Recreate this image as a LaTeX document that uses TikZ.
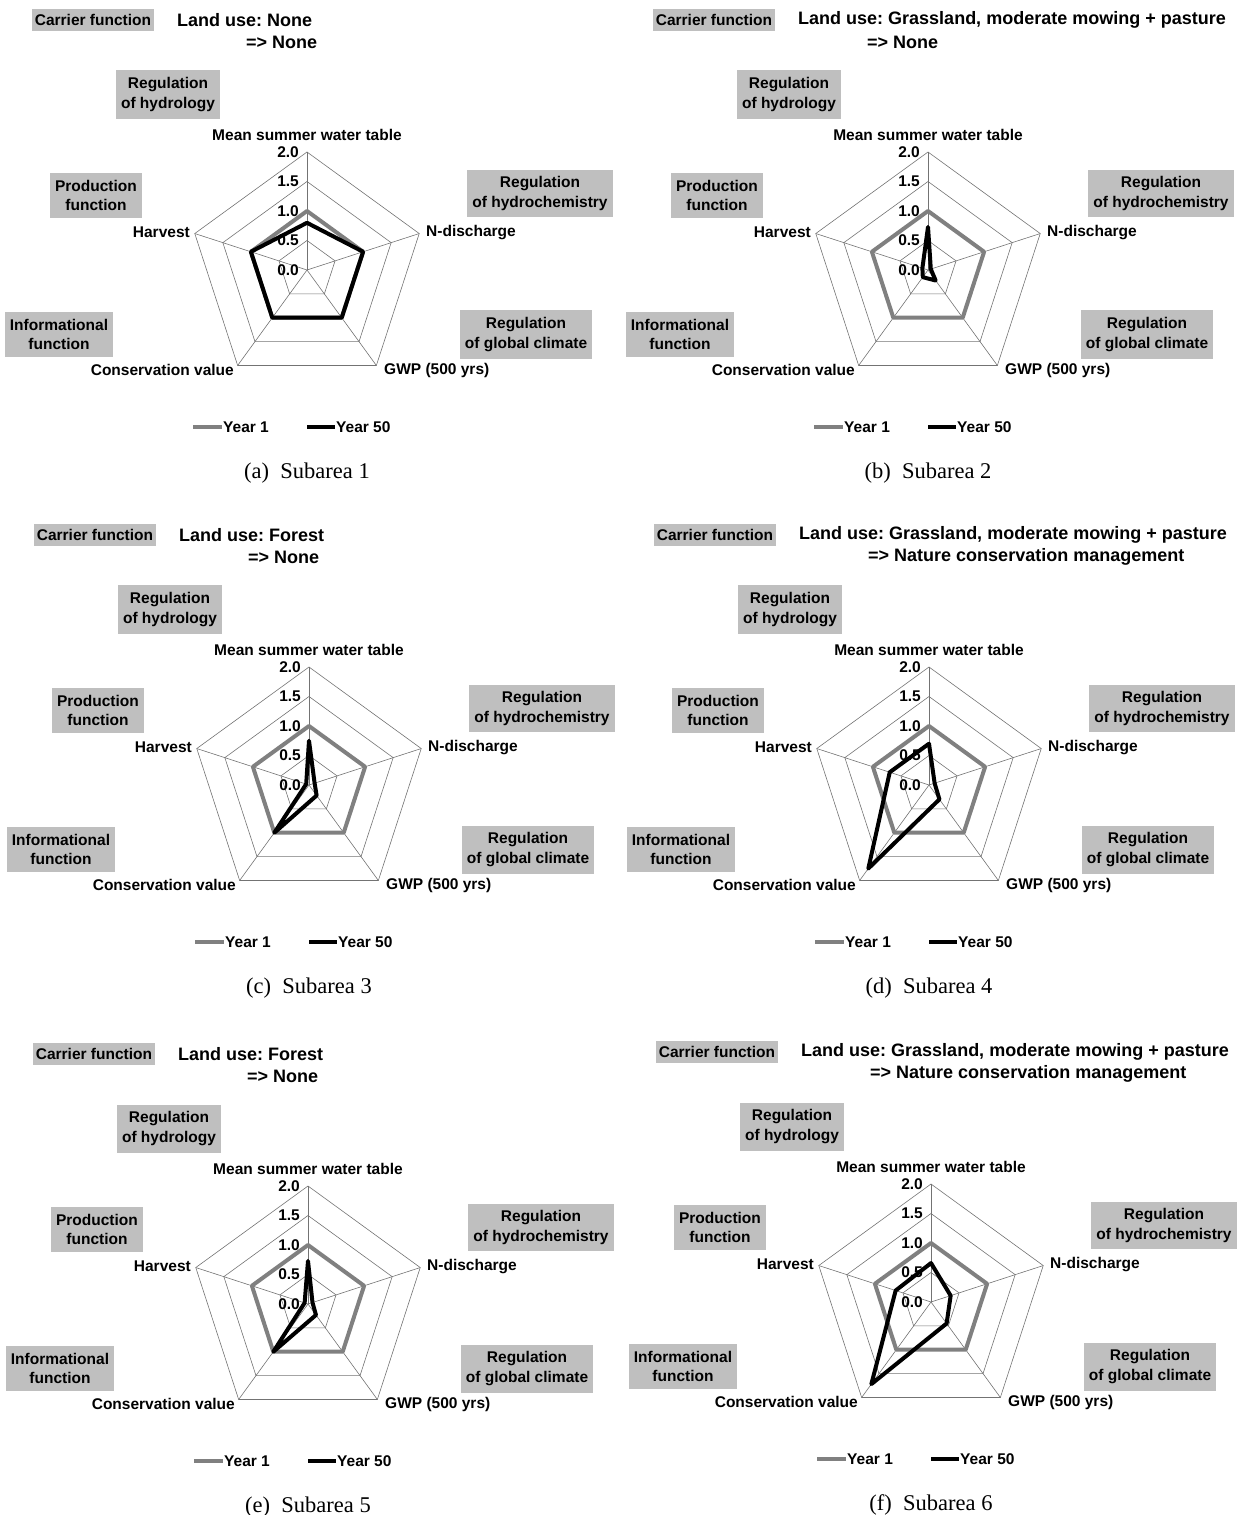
\documentclass[tikz,border=0pt]{standalone}
\usepackage{fontspec}
\setmainfont{Liberation Sans}
\newfontfamily\captionserif{Liberation Serif}
\usetikzlibrary{positioning}
\frenchspacing

\newcommand{\subareachart}[7]{%
\begin{scope}[shift={(#2,#3)}]{
\coordinate (#1-c) at (0,0);
\foreach \k in {0,...,4}{
  \coordinate (#1-a\k) at (90-72*\k:118);
}

\foreach \r in {29.5,59,88.5,118}{
  \draw[gridline] (90:\r) -- (18:\r) -- (-54:\r) -- (-126:\r) -- (162:\r) -- cycle;
}
\foreach \k in {0,...,4}{
  \draw[gridline] (#1-c) -- (#1-a\k);
}

\foreach \tk [count=\n from 0] in {0.0,0.5,1.0,1.5,2.0}{
  \node[ticklabel] (#1-t\n) at (-8,29.5*\n) {\tk};
}

\node[axislabel] (#1-wt) at (0,135) {Mean summer water table};
\node[axislabel, anchor=west] (#1-nd) at (119,37.5) {N-discharge};
\node[axislabel, anchor=west] (#1-gwp) at (77,-100) {GWP (500 yrs)};
\node[axislabel, anchor=east] (#1-cv) at (-73,-100) {Conservation value};
\node[axislabel, anchor=east] (#1-hv) at (-117,37.5) {Harvest};

\draw[yearone] (90:59) -- (18:59) -- (-54:59) -- (-126:59) -- (162:59) -- cycle;
\foreach \v [count=\k from 0] in {#6}{
  \coordinate (#1-p\k) at (90-72*\k:59*\v);
}
\draw[yearfifty] (#1-p0) -- (#1-p1) -- (#1-p2) -- (#1-p3) -- (#1-p4) -- cycle;

\node[funcbox, inner xsep=3pt, inner ysep=5.5pt] (#1-carrier) at (-214,250) {Carrier function};
\node[titletext, anchor=west] (#1-lu) at (-130,250) {Land use: #4};
\node[titletext, anchor=west] (#1-to) at (-61,228) {=> #5};

\node[funcbox] (#1-hydro) at (-139,175.5) {Regulation\\of hydrology};
\node[funcbox] (#1-prod) at (-211,74.5) {Production\\function};
\node[funcbox] (#1-chem) at (233,76.5) {Regulation\\of hydrochemistry};
\node[funcbox] (#1-info) at (-248,-64.5) {Informational\\function};
\node[funcbox] (#1-clim) at (219,-64.5) {Regulation\\of global climate};

\coordinate (#1-l1a) at (-114,-157);
\coordinate (#1-l1b) at (-85,-157);
\draw[yearone, line cap=butt] (#1-l1a) -- (#1-l1b);
\node[legendtext, right=1pt of #1-l1b] (#1-ly1) {Year 1};
\coordinate (#1-l2a) at (0,-157);
\coordinate (#1-l2b) at (28,-157);
\draw[yearfifty, line cap=butt] (#1-l2a) -- (#1-l2b);
\node[legendtext, right=1pt of #1-l2b] (#1-ly50) {Year 50};

\node[captiontext] (#1-cap) at (0,-203) {#7};
} \end{scope}}

\begin{document}
\begin{tikzpicture}[x=1pt, y=1pt,
  gridline/.style={black!55, line width=0.6pt},
  yearone/.style={black!50, line width=4pt, line join=round},
  yearfifty/.style={black, line width=4pt, line join=round},
  ticklabel/.style={anchor=east, inner sep=0pt, font=\bfseries\fontsize{15.5}{18}\selectfont},
  axislabel/.style={inner sep=0pt, font=\bfseries\fontsize{15.5}{18}\selectfont},
  funcbox/.style={fill=black!25, align=center, inner xsep=5pt, inner ysep=7pt, font=\bfseries\fontsize{15.5}{19.5}\selectfont},
  titletext/.style={inner sep=0pt, font=\bfseries\fontsize{18}{22}\selectfont},
  legendtext/.style={inner sep=0pt, font=\bfseries\fontsize{15.5}{18}\selectfont},
  captiontext/.style={inner sep=0pt, font=\captionserif\fontsize{22.5}{26}\selectfont}]

\useasboundingbox (0,0) rectangle (1240,-1515);

\subareachart{sa}{307}{-270}{None}{None}{0.8,1.0,1.0,1.0,1.0}{(a)\enspace Subarea 1}
\subareachart{sb}{928}{-270}{Grassland, moderate mowing + pasture}{None}{0.73,0.05,0.22,0.15,0.1}{(b)\enspace Subarea 2}
\subareachart{sc}{309}{-785}{Forest}{None}{0.75,0.1,0.22,1.0,0.05}{(c)\enspace Subarea 3}
\subareachart{sd}{929}{-785}{Grassland, moderate mowing + pasture}{Nature conservation management}{0.7,0.1,0.3,1.75,0.7}{(d)\enspace Subarea 4}
\subareachart{se}{308}{-1304}{Forest}{None}{0.73,0.08,0.23,1.0,0.06}{(e)\enspace Subarea 5}
\subareachart{sf}{931}{-1302}{Grassland, moderate mowing + pasture}{Nature conservation management}{0.66,0.35,0.45,1.72,0.63}{(f)\enspace Subarea 6}

\end{tikzpicture}
\end{document}
